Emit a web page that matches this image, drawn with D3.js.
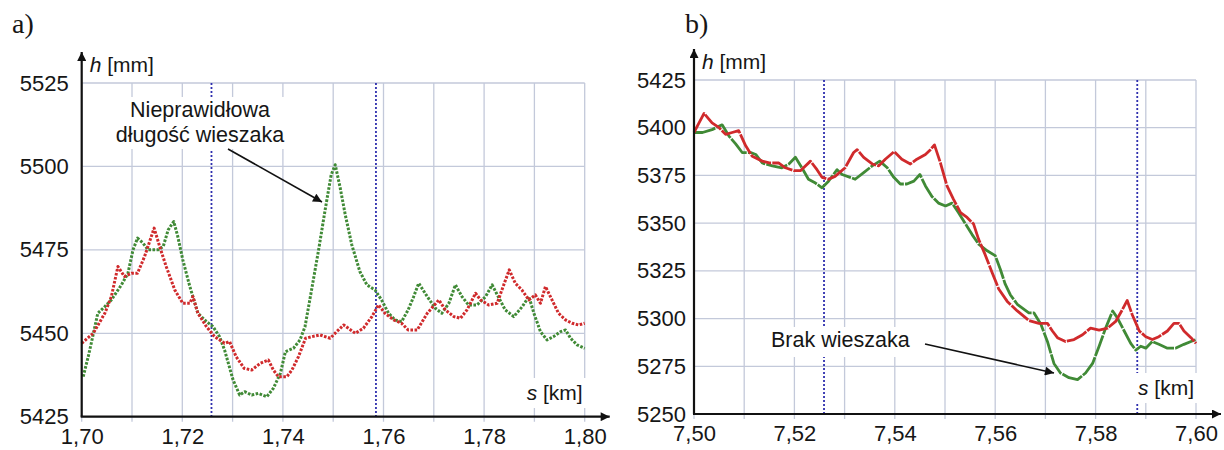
<!DOCTYPE html>
<html>
<head>
<meta charset="utf-8">
<script src="https://cdn.jsdelivr.net/npm/d3@7"></script>
<style>
  body { margin: 0; background: #fff; }
  svg { display: block; font-family: "Liberation Sans", Arial, sans-serif; }
  .tick-label { fill: #161616; }
  .axis-title { font-size: 21px; fill: #161616; }
  .panel-tag { font-family: "Liberation Serif", "Times New Roman", serif; font-size: 28px; fill: #161616; }
  .note { font-size: 21.5px; fill: #161616; }
</style>
</head>
<body>
<svg width="1224" height="450"></svg>
<script>
// panel a) - s 1.70..1.80 km
const sTicksA = [1.70, 1.71, 1.72, 1.73, 1.74, 1.75, 1.76, 1.77, 1.78, 1.79, 1.80];
const sLabelsA = [1.70, 1.72, 1.74, 1.76, 1.78, 1.80];
const hTicksA = [5425, 5450, 5475, 5500, 5525];
const hangersA = [1.7258, 1.7585];

const redA = [
  [1.7000,5447],[1.7023,5450],[1.7046,5456],[1.7059,5461],[1.7072,5470],[1.7085,5467],
  [1.7099,5468],[1.7111,5468],[1.7125,5473],[1.7144,5481.5],[1.7155,5476],[1.7168,5470],
  [1.7185,5463],[1.7201,5459],[1.7215,5459],[1.7221,5461],[1.7231,5456],[1.7248,5452],
  [1.7264,5449],[1.7284,5447],[1.7294,5447.5],[1.7307,5443],[1.7323,5439.5],[1.7338,5439],
  [1.7355,5441],[1.7371,5442],[1.7381,5439],[1.7391,5437],[1.7408,5437],[1.7418,5439],
  [1.7431,5443],[1.7445,5448.5],[1.7458,5449],[1.7474,5449.5],[1.7494,5448.5],[1.7507,5450.5],
  [1.7521,5452.5],[1.7530,5451.5],[1.7544,5450],[1.7560,5451.5],[1.7577,5455],[1.7590,5458.5],
  [1.7603,5456],[1.7620,5454],[1.7636,5453],[1.7649,5451],[1.7667,5451],[1.7687,5456],
  [1.7710,5460],[1.7723,5457],[1.7740,5455],[1.7753,5454.5],[1.7766,5457],[1.7783,5462],
  [1.7793,5460],[1.7809,5458.5],[1.7826,5459],[1.7839,5464.5],[1.7850,5469],[1.7862,5465],
  [1.7875,5463],[1.7889,5460],[1.7902,5461.5],[1.7912,5459],[1.7922,5464],[1.7935,5460],
  [1.7948,5456],[1.7962,5454],[1.7975,5453],[1.7988,5452.5],[1.8000,5453]
];
const greenA = [
  [1.7003,5437],[1.7013,5443],[1.7019,5447],[1.7032,5456],[1.7046,5458],[1.7059,5460],
  [1.7079,5464.5],[1.7092,5468],[1.7102,5475],[1.7111,5478.5],[1.7122,5477],[1.7132,5475],
  [1.7152,5475],[1.7162,5476],[1.7172,5481],[1.7183,5483.5],[1.7191,5479],[1.7201,5472],
  [1.7215,5464],[1.7231,5456],[1.7248,5453.5],[1.7261,5452],[1.7274,5449],[1.7284,5445],
  [1.7301,5436],[1.7314,5431.5],[1.7324,5432.5],[1.7338,5431.5],[1.7351,5432],[1.7368,5431],
  [1.7381,5433.5],[1.7395,5438],[1.7405,5444.5],[1.7421,5445.5],[1.7434,5448],[1.7444,5452],
  [1.7457,5463],[1.7471,5475],[1.7484,5487],[1.7496,5497.5],[1.7504,5500.5],[1.7514,5493.5],
  [1.7524,5485.5],[1.7537,5476.5],[1.7553,5468.5],[1.7567,5464.5],[1.7583,5463],[1.7596,5460],
  [1.7610,5456],[1.7623,5454],[1.7636,5453.5],[1.7649,5457],[1.7660,5461],[1.7670,5465],
  [1.7687,5461],[1.7703,5457.5],[1.7716,5456],[1.7730,5459],[1.7743,5464.5],[1.7756,5461],
  [1.7769,5458.5],[1.7786,5458.5],[1.7803,5461],[1.7816,5464.5],[1.7828,5461],[1.7842,5457],
  [1.7859,5455],[1.7876,5458],[1.7889,5461],[1.7899,5456],[1.7912,5450.5],[1.7925,5448],
  [1.7938,5449],[1.7952,5450.5],[1.7962,5451],[1.7972,5448.5],[1.7985,5446.5],[1.8000,5445.5]
];

// panel b) - s 7.50..7.60 km
const sTicksB = [7.50, 7.51, 7.52, 7.53, 7.54, 7.55, 7.56, 7.57, 7.58, 7.59, 7.60];
const sLabelsB = [7.50, 7.52, 7.54, 7.56, 7.58, 7.60];
const hTicksB = [5250, 5275, 5300, 5325, 5350, 5375, 5400, 5425];
const hangersB = [7.5259, 7.5883];

const redB = [
  [7.5000,5397.5],[7.5010,5402.5],[7.5020,5407.5],[7.5036,5402.5],[7.5050,5400],[7.5063,5396.5],
  [7.5076,5397.5],[7.5089,5398.5],[7.5103,5390.5],[7.5116,5385],[7.5136,5382.5],[7.5152,5381.5],
  [7.5169,5381.5],[7.5182,5379],[7.5199,5377.5],[7.5212,5377.5],[7.5232,5382.5],[7.5245,5378],
  [7.5255,5374],[7.5268,5373],[7.5281,5374.5],[7.5301,5379],[7.5318,5387],[7.5325,5388.5],
  [7.5338,5384.5],[7.5355,5381],[7.5368,5380],[7.5381,5383.5],[7.5399,5387.5],[7.5414,5383.5],
  [7.5431,5381],[7.5444,5383.5],[7.5461,5386],[7.5471,5388.5],[7.5479,5391],[7.5491,5381.5],
  [7.5504,5369.5],[7.5517,5362.5],[7.5531,5355.5],[7.5544,5353],[7.5557,5349.5],[7.5567,5341.5],
  [7.5580,5333.5],[7.5594,5324],[7.5607,5315.5],[7.5624,5309],[7.5644,5304],[7.5667,5299],
  [7.5687,5297.5],[7.5704,5297.5],[7.5714,5293.5],[7.5724,5290],[7.5740,5288],[7.5757,5289],
  [7.5774,5291.5],[7.5790,5295],[7.5807,5294],[7.5824,5295],[7.5840,5298.5],[7.5853,5304.5],
  [7.5863,5309.5],[7.5873,5302],[7.5887,5293.5],[7.5900,5290.5],[7.5913,5289],[7.5926,5290.5],
  [7.5943,5293.5],[7.5956,5297.5],[7.5966,5297.5],[7.5976,5293.5],[7.5990,5290],[7.6000,5287]
];
const greenB = [
  [7.5000,5397.5],[7.5017,5397.5],[7.5036,5399],[7.5056,5401.5],[7.5070,5395.5],[7.5083,5391.5],
  [7.5096,5387],[7.5113,5387],[7.5123,5386],[7.5136,5381.5],[7.5156,5380],[7.5175,5379],
  [7.5189,5381],[7.5202,5384.5],[7.5215,5379],[7.5228,5373],[7.5242,5371],[7.5255,5368.5],
  [7.5268,5372],[7.5285,5378],[7.5295,5375.5],[7.5311,5374],[7.5321,5373],[7.5338,5376.5],
  [7.5355,5380],[7.5370,5382.5],[7.5385,5379],[7.5398,5374],[7.5411,5370.5],[7.5424,5370.5],
  [7.5438,5372],[7.5450,5375.5],[7.5461,5369.5],[7.5474,5364],[7.5487,5360.5],[7.5501,5359],
  [7.5514,5360.5],[7.5527,5355.5],[7.5541,5349.5],[7.5554,5344],[7.5567,5339],[7.5584,5335.5],
  [7.5600,5333],[7.5610,5326],[7.5620,5318],[7.5630,5312.5],[7.5644,5307.5],[7.5667,5303],
  [7.5677,5303],[7.5691,5297],[7.5704,5288],[7.5717,5276.5],[7.5730,5271.5],[7.5747,5269],
  [7.5764,5268],[7.5780,5271.5],[7.5794,5276.5],[7.5807,5285.5],[7.5820,5295],[7.5834,5304],
  [7.5843,5300.5],[7.5857,5293.5],[7.5870,5287],[7.5880,5283.5],[7.5890,5285.5],[7.5900,5284.5],
  [7.5913,5288],[7.5926,5286.5],[7.5943,5284.5],[7.5959,5284.5],[7.5976,5286.5],[7.5990,5288],
  [7.6000,5289]
];

const RED = "#d02a2c";
const GREEN = "#408a36";
const GRID = "#c3c9da";
const HANGER = "#2f2fae";

const svg = d3.select("svg");
const comma = v => v.toFixed(2).replace(".", ",");

const defs = svg.append("defs");
defs.append("marker")
  .attr("id", "head")
  .attr("viewBox", "0 0 10 10")
  .attr("refX", 10).attr("refY", 5)
  .attr("markerWidth", 16).attr("markerHeight", 9)
  .attr("markerUnits", "userSpaceOnUse")
  .attr("orient", "auto")
  .append("path").attr("d", "M0,0L10,5L0,10z").attr("fill", "#111");

function drawPanel(p) {
  const x = d3.scaleLinear().domain(p.sDomain).range([p.left, p.right]);
  const y = d3.scaleLinear().domain(p.hDomain).range([p.bottom, p.top]);
  const g = svg.append("g");

  // grid
  g.append("g").selectAll("line").data(p.hTicks).join("line")
    .attr("x1", p.left).attr("x2", p.right)
    .attr("y1", d => y(d)).attr("y2", d => y(d))
    .attr("stroke", GRID).attr("stroke-width", 1.3);
  g.append("g").selectAll("line").data(p.sTicks).join("line")
    .attr("x1", d => x(d)).attr("x2", d => x(d))
    .attr("y1", p.top).attr("y2", p.bottom + 5)
    .attr("stroke", GRID).attr("stroke-width", 1.3);

  // hanger positions
  g.append("g").selectAll("line").data(p.hangers).join("line")
    .attr("x1", d => x(d)).attr("x2", d => x(d))
    .attr("y1", p.top).attr("y2", p.bottom)
    .attr("stroke", HANGER).attr("stroke-width", 1.8)
    .attr("stroke-dasharray", "2,2");

  // series
  const line = d3.line().x(d => x(d[0])).y(d => y(d[1]));
  [[p.green, GREEN], [p.red, RED]].forEach(([data, col]) => {
    g.append("path").datum(data)
      .attr("d", line)
      .attr("fill", "none")
      .attr("stroke", col)
      .attr("stroke-width", p.lineWidth)
      .attr("stroke-linejoin", "round")
      .attr("stroke-dasharray", p.dash);
  });

  // axes with arrows
  g.append("line")
    .attr("x1", p.left).attr("x2", p.left)
    .attr("y1", p.bottom).attr("y2", p.top - 31)
    .attr("stroke", "#111").attr("stroke-width", 2.2)
    .attr("marker-end", "url(#head)");
  g.append("line")
    .attr("x1", p.left - 1).attr("x2", p.right + 25)
    .attr("y1", p.bottom).attr("y2", p.bottom)
    .attr("stroke", "#111").attr("stroke-width", 2.2)
    .attr("marker-end", "url(#head)");

  // tick labels
  const yAxis = d3.axisLeft(y).tickValues(p.hTicks).tickSize(0).tickPadding(p.yPad).tickFormat(d3.format("d"));
  const ya = g.append("g").attr("transform", `translate(${p.left},0)`).call(yAxis);
  const xAxis = d3.axisBottom(x).tickValues(p.sLabels).tickSize(0).tickPadding(p.xPad).tickFormat(comma);
  const xa = g.append("g").attr("transform", `translate(0,${p.bottom})`).call(xAxis);
  [ya, xa].forEach(a => {
    a.select(".domain").remove();
    a.selectAll("text").attr("class", "tick-label").attr("fill", null).style("font-size", "22px")
      .style("font-family", "'Liberation Sans', Arial, sans-serif");
  });

  // axis titles
  const ht = g.append("text").attr("class", "axis-title")
    .attr("x", p.left + 8).attr("y", p.top - 11);
  ht.append("tspan").attr("font-style", "italic").text("h");
  ht.append("tspan").text(" [mm]");

  const stW = 60, stH = 30;
  g.append("rect").attr("x", p.right - stW - 4).attr("y", p.sTitleY - 22)
    .attr("width", stW + 6).attr("height", stH).attr("fill", "#fff");
  const st = g.append("text").attr("class", "axis-title")
    .attr("x", p.right - 2).attr("y", p.sTitleY).attr("text-anchor", "end");
  st.append("tspan").attr("font-style", "italic").text("s");
  st.append("tspan").text(" [km]");

  svg.append("text").attr("class", "panel-tag")
    .attr("x", p.tagX).attr("y", 33).text(p.tag);

  return { x, y, g };
}

const a = drawPanel({
  tag: "a)", tagX: 12,
  sDomain: [1.70, 1.80], hDomain: [5425, 5525],
  left: 81.7, right: 584.7, top: 83, bottom: 416.7,
  sTicks: sTicksA, sLabels: sLabelsA, hTicks: hTicksA, hangers: hangersA,
  red: redA, green: greenA,
  lineWidth: 3, dash: "2.6,1.5",
  yPad: 13, xPad: 12, sTitleY: 400
});

const b = drawPanel({
  tag: "b)", tagX: 685,
  sDomain: [7.50, 7.60], hDomain: [5250, 5425],
  left: 694, right: 1196, top: 80, bottom: 414,
  sTicks: sTicksB, sLabels: sLabelsB, hTicks: hTicksB, hangers: hangersB,
  red: redB, green: greenB,
  lineWidth: 2.8, dash: "22,1.2",
  yPad: 8, xPad: 11, sTitleY: 395
});

// annotation a): wrong hanger length
a.g.append("rect").attr("x", 106).attr("y", 97).attr("width", 190).attr("height", 52).attr("fill", "#fff");
a.g.append("text").attr("class", "note").attr("x", 200).attr("y", 117)
  .attr("text-anchor", "middle").text("Nieprawidłowa");
a.g.append("text").attr("class", "note").attr("x", 200).attr("y", 142)
  .attr("text-anchor", "middle").text("długość wieszaka");
a.g.append("line")
  .attr("x1", 228).attr("y1", 149).attr("x2", 322).attr("y2", 202)
  .attr("stroke", "#111").attr("stroke-width", 1.6)
  .attr("marker-end", "url(#head)");

// annotation b): missing hanger
b.g.append("rect").attr("x", 767).attr("y", 327).attr("width", 156).attr("height", 30).attr("fill", "#fff");
b.g.append("text").attr("class", "note").attr("x", 771).attr("y", 347).text("Brak wieszaka");
b.g.append("line")
  .attr("x1", 925).attr("y1", 344).attr("x2", 1054).attr("y2", 373)
  .attr("stroke", "#111").attr("stroke-width", 1.6)
  .attr("marker-end", "url(#head)");
</script>
</body>
</html>
